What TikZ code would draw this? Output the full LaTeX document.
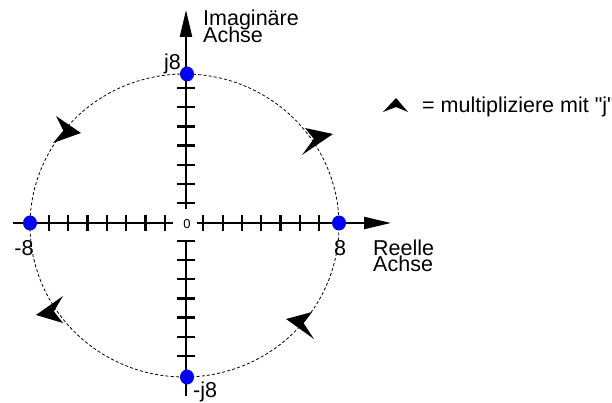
\documentclass[tikz,border=0pt]{standalone}
\usepackage{fontspec}
\setmainfont{Liberation Sans}[Ligatures=TeXOff]
\usetikzlibrary{arrows.meta}
\begin{document}
\begin{tikzpicture}[x=1pt,y=-1pt,
  axis/.style={line width=2.3pt},
  tickmark/.style={line width=2.2pt},
  ring/.style={line width=0.8pt, dash pattern=on 3pt off 2.2pt},
  bluedot/.style={fill=blue},
  lbl/.style={font=\fontsize{21.5}{21.5}\selectfont, inner sep=0pt},
  zerolbl/.style={font=\fontsize{13}{13}\selectfont, inner sep=0pt},
  chev/.style={fill=black},
  axhead/.style={-{Triangle[length=27pt,width=12pt]}}
]
\useasboundingbox (0,0) rectangle (612,403);
% coordinates
\coordinate (Lend) at (13,223);
\coordinate (Lgap) at (173,223);
\coordinate (Rgap) at (197,223);
\coordinate (Rtip) at (391,223);
\coordinate (Ttip) at (186,10);
\coordinate (Tgap) at (186,209);
\coordinate (Bgap) at (186,240);
\coordinate (Bend) at (186,396);
% dashed circle
\draw[ring] (184.5,225.5) ellipse [x radius=154.5pt, y radius=151.5pt];
% axes
\draw[axis] (Lend) -- (Lgap);
\draw[axis,axhead] (Rgap) -- (Rtip);
\draw[axis,axhead] (Tgap) -- (Ttip);
\draw[axis] (Bgap) -- (Bend);
% ticks
\foreach \k in {1,...,7}{
  \draw[tickmark] ({184+19.3*\k},215) -- ({184+19.3*\k},231);
  \draw[tickmark] ({184-19.3*\k},215) -- ({184-19.3*\k},231);
  \draw[tickmark] (177,{222-19.1*\k}) -- (195,{222-19.1*\k});
  \draw[tickmark] (177,{222+19.1*\k}) -- (195,{222+19.1*\k});
}
% dots
\fill[bluedot] (339,223) ellipse [x radius=7pt, y radius=7.5pt];
\fill[bluedot] (30,223) ellipse [x radius=7pt, y radius=7.5pt];
\fill[bluedot] (187,74) ellipse [x radius=7pt, y radius=7.5pt];
\fill[bluedot] (187,377) ellipse [x radius=7pt, y radius=7.5pt];
% chevrons on circle
\fill[chev] (81,133) -- (56,116) -- (63.4,130.7) -- (53,143) -- cycle;
\fill[chev] (333,134) -- (305,128) -- (313.8,138.9) -- (302,155) -- cycle;
\fill[chev] (36,315) -- (63,296) -- (53.9,311.4) -- (63,323) -- cycle;
\fill[chev] (286,319) -- (312,312) -- (303.6,323.2) -- (314,339) -- cycle;
% legend
\fill[chev] (396,98) -- (408,112) -- (396,107) -- (383,112) -- cycle;
\node[lbl, anchor=base west] (leg) at (422,113) {= multipliziere mit "j"};
% labels
\node[lbl, anchor=base west] (im1) at (203,26) {Imaginäre};
\node[lbl, anchor=base west] (im2) at (203,42.5) {Achse};
\node[lbl, anchor=base west] (re1) at (373,255) {Reelle};
\node[lbl, anchor=base west] (re2) at (373,271.5) {Achse};
\node[lbl, anchor=base east] (j8) at (181,70) {j8};
\node[lbl, anchor=base west] (mj8) at (193,397) {-j8};
\node[lbl, anchor=base] (m8) at (24,255) {-8};
\node[lbl, anchor=base] (p8) at (340,255) {8};
\node[zerolbl] (zero) at (187,224) {0};
\end{tikzpicture}
\end{document}
